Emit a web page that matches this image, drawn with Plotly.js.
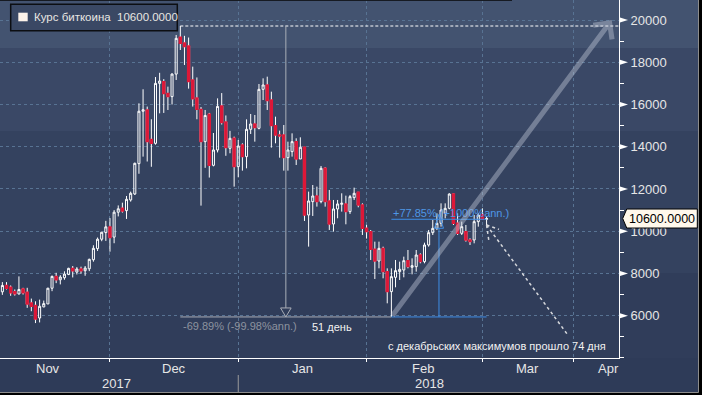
<!DOCTYPE html>
<html><head><meta charset="utf-8">
<script src="https://cdn.plot.ly/plotly-3.0.1.min.js"></script>
<style>html,body{margin:0;padding:0;background:#000;}#chart{width:702px;height:395px;}</style>
</head><body><div id="chart"></div>
<script>
// ---------- data ----------
const seriesName = 'Курс биткоина';
const lastPrice = 10600;
const startDate = '2017-11-05';
const opens = [
 7130,7430,7350,7130,7030,7270,7110,6600,6490,5890,6415,6555,7300,7860,7700,7795,7950,8240,8065,8210,8130,8220,8650,9175,9620,9935,
 10206,9720,10900,11085,10974,11480,11763,13200,15680,15740,14350,14160,17000,17081,16520,16371,17440,19180,18910,18770,17160,16310,15770,14240,15540,13120,13846,15930,15170,13925,14398,
 13056,14082,13530,14824,15076,14871,16717,16923,16212,14997,14555,14555,13482,13767,14240,13419,13972,10768,11400,11668,11400,12977,11431,10342,11052,11273,11289,10926,11589,11841,11242,
 10137,9978,9142,8589,9189,8085,7138,7816,8085,8163,8605,8290,8321,8873,8558,9347,9931,10136,10373,10846,11083,11761,10373,9899,9978,9584,9584,10452,
 10780,10560];
const highs = [
 7590,7590,7430,7240,7860,7320,7320,6810,6680,6760,6715,7320,7900,8030,7920,8100,8270,8350,8300,8320,8350,8700,9333,9700,9970,10490,
 10620,11000,11220,11350,11668,11873,13246,16055,16720,15900,15300,17300,17500,17200,16844,17475,19290,19716,19250,19170,17791,17280,15880,15740,15600,14650,16290,16540,15480,14750,14477,
 14319,14161,15297,15550,15502,16970,17238,17317,16607,15423,14761,15029,14240,14634,14398,14445,13972,11873,12188,12110,13088,13025,11952,11478,11478,11794,11683,11715,12062,11841,11321,
 10300,10057,9505,9505,9268,8242,8242,8637,8558,8795,9110,8716,9110,8952,9457,10057,10530,10846,11319,11319,11793,11761,10846,10452,10294,9663,10767,10846,
 11083,10700];
const lows = [
 6985,7240,6940,6950,7000,7000,6370,6210,5650,5680,6400,6555,7160,7540,7480,7700,7920,7810,7950,7985,7890,8110,8557,9065,9525,9540,
 9030,9430,10700,10880,10580,11400,11715,12720,13530,13300,13050,14100,15580,15600,15739,16000,17160,18580,17870,16750,15900,15300,11210,13000,12540,13070,13730,15050,13570,13690,12110,
 12551,12867,12977,14603,14240,14824,16212,15739,13956,14161,13482,12867,12867,13530,13135,13419,10484,9269,10721,11163,11321,11163,10058,9979,10611,10926,10326,10816,11478,11131,9821,
 9650,8637,7737,8242,7769,6585,5940,7343,7690,7816,8242,7958,8085,8479,8479,9268,9820,10057,10215,10609,11035,10294,9820,9820,9505,9347,9426,10215,
 10530,10290];
const closes = [
 7430,7300,7080,7030,7240,7080,6555,6445,5840,6445,6570,7300,7860,7700,7830,7970,8240,8130,8210,8130,8255,8667,9190,9620,9950,10206,
 9700,10900,11060,10958,11510,11795,13215,15680,15750,14240,14160,17000,17110,16520,16371,17440,19130,18895,18740,17081,16265,15770,14240,15480,13120,13846,15910,15150,13956,14398,13057,
 14035,13530,14824,15076,14903,16717,16923,16181,14997,14555,14508,13482,13845,14240,13419,13972,10768,11431,11668,11400,12977,11400,10342,11052,11289,11321,10926,11636,11794,11242,10137,
 9978,9142,8589,9189,8085,7138,7848,8132,8195,8605,8321,8368,8873,8558,9347,9931,10136,10373,11004,11083,11761,10373,9899,10215,9584,9505,10452,10767,
 10560,10600];
const yTickVals = [6000,8000,10000,12000,14000,16000,18000,20000];
const yTickText = ['6000','8000','10000','12000','14000','16000','18000','20000'];
const monthTickDates = ['2017-12-01','2018-01-01','2018-02-01','2018-03-01','2018-04-02'];
const monthLabels = ['Nov','Dec','Jan','Feb','Mar','Apr'];
const monthLabelDates = ['2017-11-16','2017-12-16 12:00','2018-01-16 12:00','2018-02-14 18:00','2018-03-16','2018-04-12 12:00'];
const yearLabels = ['2017','2018'];
const yearLabelDates = ['2017-12-02 16:00','2018-02-16 06:00'];
const weekendBreaks = ['2018-03-03','2018-03-04','2018-03-10','2018-03-11','2018-03-17','2018-03-18','2018-03-24','2018-03-25','2018-03-31','2018-04-01','2018-04-07','2018-04-08','2018-04-14','2018-04-15'];
const drawdownText = '-69.89% (-99.98%ann.)';
const daysText = '51 день';
const gainText = '+77.85% (+1000%ann.)';
const noteText = 'с декабрьских максимумов прошло 74 дня';

// ---------- helpers ----------
const DAY = 864e5;
const toMs = s => Date.parse(s + 'T00:00:00Z');
const fmt = ms => new Date(ms).toISOString().slice(0, 19).replace('T', ' ');
const dates = opens.map((_, i) => fmt(toMs(startDate) + i * DAY).slice(0, 10));

const FONT = 'Liberation Sans, Arial, sans-serif';
const GRID = '#587393';
const Y0 = 3996, Y1 = 20947;
const PX = (Y1 - Y0) / 358;           // value units per pixel

// key points
const peakIdx = highs.indexOf(Math.max(...highs));
const peak = highs[peakIdx];
let lowIdx = peakIdx;
for (let i = peakIdx; i < lows.length; i++) if (lows[i] < lows[lowIdx]) lowIdx = i;
const low = lows[lowIdx];
const lastIdx = closes.length - 1;
const up = low * 1.7785;
const tPeak = toMs(dates[peakIdx]), tLow = toMs(dates[lowIdx]), tLast = toMs(dates[lastIdx]);
const mid1 = (tPeak + tLow) / 2, mid2 = (tLow + tLast) / 2;

// ---------- traces ----------
const allCandles = {
  type: 'candlestick', x: dates, open: opens, high: highs, low: lows, close: closes,
  increasing: {line: {color: '#ffffff', width: 1}, fillcolor: 'rgba(0,0,0,0)'},
  decreasing: {line: {color: '#ffffff', width: 1}, fillcolor: 'rgba(0,0,0,0)'},
  whiskerwidth: 0, hoverinfo: 'skip', showlegend: false
};
const dn = dates.map((d, i) => i).filter(i => closes[i] < opens[i]);
const redBodies = {
  type: 'candlestick', x: dn.map(i => dates[i]), open: dn.map(i => opens[i]),
  high: dn.map(i => opens[i]), low: dn.map(i => closes[i]), close: dn.map(i => closes[i]),
  increasing: {line: {color: '#dd1838', width: 1.4}, fillcolor: '#dd1838'},
  decreasing: {line: {color: '#dd1838', width: 1.4}, fillcolor: '#dd1838'},
  whiskerwidth: 0, hoverinfo: 'skip', showlegend: false
};
const gw = 1.28 * DAY, gh = 9 * PX;
const greyTri = {
  type: 'scatter', mode: 'lines', hoverinfo: 'skip', showlegend: false,
  x: [fmt(mid1 - gw), fmt(mid1), fmt(mid1 + gw), fmt(mid1 - gw)],
  y: [low + gh, low, low + gh, low + gh],
  line: {color: '#a9aeb7', width: 1}
};
const bw = 1.09 * DAY;
const blueTri = {
  type: 'scatter', mode: 'lines', hoverinfo: 'skip', showlegend: false,
  x: [fmt(mid2 - bw), fmt(mid2), fmt(mid2 + bw), fmt(mid2 - bw)],
  y: [up - 9 * PX, up + 5 * PX, up - 9 * PX, up - 9 * PX],
  line: {color: '#3f8ee6', width: 1}
};

// ---------- shapes ----------
const shapes = [
  {type: 'rect', xref: 'paper', yref: 'paper', x0: 0, x1: 698 / 619, y0: -34 / 358, y1: 1, fillcolor: '#2e3b58', line: {width: 0}, layer: 'below'},
  {type: 'rect', xref: 'paper', yref: 'paper', x0: 0, x1: 698 / 619, y0: 1 - 48 / 358, y1: 1, fillcolor: '#435370', line: {width: 0}, layer: 'below'},
  {type: 'rect', xref: 'paper', yref: 'paper', x0: 0, x1: 698 / 619, y0: 1 - 131 / 358, y1: 1 - 48 / 358, fillcolor: '#3a4866', line: {width: 0}, layer: 'below'},
  {type: 'rect', xref: 'paper', yref: 'paper', x0: 0, x1: 698 / 619, y0: 1 - 273 / 358, y1: 1 - 131 / 358, fillcolor: '#34425f', line: {width: 0}, layer: 'below'},
  {type: 'rect', xref: 'paper', yref: 'paper', x0: 0, x1: 698 / 619, y0: 0, y1: 1 - 273 / 358, fillcolor: '#303d5a', line: {width: 0}, layer: 'below'},
  // frame
  {type: 'line', xref: 'paper', yref: 'paper', x0: 698.5 / 619, x1: 698.5 / 619, y0: 1, y1: -34.5 / 358, line: {color: '#8c8c8c', width: 1}},
  {type: 'line', xref: 'paper', yref: 'paper', x0: 0, x1: 698.5 / 619, y0: -34.5 / 358, y1: -34.5 / 358, line: {color: '#8c8c8c', width: 1}},
  {type: 'line', xref: 'paper', yref: 'paper', x0: 0, x1: 512 / 619, y0: 1 - 0.5 / 358, y1: 1 - 0.5 / 358, line: {color: '#161a22', width: 1}},
  // year separator
  {type: 'line', xref: 'x', yref: 'paper', x0: '2018-01-01', x1: '2018-01-01', y0: -17 / 358, y1: -34 / 358, line: {color: '#9a9a9a', width: 1}},
  // legend box + icon
  {type: 'rect', xref: 'paper', yref: 'paper', x0: 10.7 / 619, x1: 177.3 / 619, y0: 1 - 30.7 / 358, y1: 1 - 4.3 / 358, fillcolor: '#3a4864', line: {color: '#0c0e12', width: 1.5}},
  {type: 'rect', xref: 'paper', yref: 'paper', x0: 18.3 / 619, x1: 27.7 / 619, y0: 1 - 21.3 / 358, y1: 1 - 12.7 / 358, fillcolor: '#fdf3ea', line: {width: 0}},
  // peak dashed line
  {type: 'line', xref: 'x', yref: 'y', x0: dates[peakIdx], x1: '2018-04-17', y0: peak, y1: peak, line: {color: '#ffffff', width: 1, dash: '3px,2px'}},
  // drawdown measure
  {type: 'line', xref: 'x', yref: 'y', x0: fmt(mid1), x1: fmt(mid1), y0: peak, y1: low + gh, line: {color: '#a9aeb7', width: 1}},
  {type: 'line', xref: 'x', yref: 'y', x0: dates[peakIdx], x1: dates[lowIdx], y0: low, y1: low, line: {color: '#a9aeb7', width: 1}},
  // gain measure
  {type: 'line', xref: 'x', yref: 'y', x0: dates[lowIdx], x1: dates[lastIdx], y0: low, y1: low, line: {color: '#3f8ee6', width: 1}},
  {type: 'line', xref: 'x', yref: 'y', x0: dates[lowIdx], x1: dates[lastIdx], y0: up, y1: up, line: {color: '#3f8ee6', width: 1}},
  {type: 'line', xref: 'x', yref: 'y', x0: fmt(mid2), x1: fmt(mid2), y0: up - 9 * PX, y1: low, line: {color: '#3f8ee6', width: 1}},
  // dotted pointer from last candle
  {type: 'line', xref: 'x', yref: 'y', x0: dates[lastIdx], x1: '2018-03-29 15:30', y0: lows[lastIdx], y1: 5085, line: {color: '#d6d8dc', width: 1.5, dash: 'dot'}},
  {type: 'line', xref: 'x', yref: 'y', x0: dates[lastIdx], x1: '2018-03-07', y0: lows[lastIdx], y1: lows[lastIdx] - 4.3 * PX, line: {color: '#d6d8dc', width: 1.5, dash: 'dot'}},
  {type: 'line', xref: 'x', yref: 'y', x0: dates[lastIdx], x1: fmt(tLast + 0.6 * DAY), y0: lows[lastIdx], y1: lows[lastIdx] - 17 * PX, line: {color: '#d6d8dc', width: 1.5, dash: 'dot'}},
  // price label
  {type: 'path', xref: 'paper', yref: 'y',
   path: `M 1.006,${lastPrice} L 1.0125,${lastPrice + 9.5 * PX} L 1.1265,${lastPrice + 9.5 * PX} L 1.1265,${lastPrice - 9.5 * PX} L 1.0125,${lastPrice - 9.5 * PX} Z`,
   fillcolor: '#fff8ec', line: {color: '#000000', width: 1}}
];
// y tick triangles
yTickVals.forEach(v => shapes.push({
  type: 'path', xref: 'paper', yref: 'y',
  path: `M 1.0016,${v - 2.5 * PX} L 1.0145,${v} L 1.0016,${v + 2.5 * PX} Z`,
  fillcolor: '#ffffff', line: {width: 0}
}));

// ---------- annotations ----------
const annotations = [];
monthLabels.forEach((m, i) => annotations.push({
  xref: 'x', yref: 'paper', x: monthLabelDates[i], y: -10 / 358, text: m, showarrow: false,
  xanchor: 'center', yanchor: 'middle', font: {family: FONT, size: 13, color: '#e6e6e6'}
}));
yearLabels.forEach((m, i) => annotations.push({
  xref: 'x', yref: 'paper', x: yearLabelDates[i], y: -25 / 358, text: m, showarrow: false,
  xanchor: 'center', yanchor: 'middle', font: {family: FONT, size: 13, color: '#e6e6e6'}
}));
annotations.push(
  {xref: 'paper', yref: 'paper', x: 32 / 619, y: 1 - 17.5 / 358, xanchor: 'left', yanchor: 'middle', showarrow: false,
   text: seriesName + ' \u00a0' + lastPrice.toFixed(4), font: {family: FONT, size: 11.5, color: '#e8e6e2'}},
  {xref: 'paper', yref: 'y', x: 661.7 / 619, y: lastPrice, xanchor: 'center', yanchor: 'middle', showarrow: false,
   text: lastPrice.toFixed(4), font: {family: FONT, size: 12.5, color: '#000000'}},
  {xref: 'x', yref: 'y', x: dates[peakIdx], y: low, xanchor: 'left', yanchor: 'middle', xshift: 1, yshift: -8.6, showarrow: false,
   text: drawdownText, font: {family: FONT, size: 11, color: '#8d939f'}},
  {xref: 'x', yref: 'y', x: fmt(mid1), y: low, xanchor: 'left', yanchor: 'middle', xshift: 24, yshift: -10.3, showarrow: false,
   text: daysText, font: {family: FONT, size: 11, color: '#f2f2f2'}},
  {xref: 'x', yref: 'y', x: dates[lowIdx], y: up, xanchor: 'left', yanchor: 'middle', xshift: 0, yshift: 6, showarrow: false,
   text: gainText, font: {family: FONT, size: 11, color: '#4f97e6'}},
  {xref: 'x', yref: 'y', x: '2018-02-06', y: 4578, xanchor: 'left', yanchor: 'middle', xshift: -1, showarrow: false,
   text: noteText, font: {family: FONT, size: 11, color: '#f2f2f2'}},
  {xref: 'x', yref: 'y', x: '2018-04-13 06:00', y: 20000, axref: 'x', ayref: 'y', ax: dates[lowIdx], ay: low,
   text: '', showarrow: true, arrowhead: 4, arrowsize: 0.9, arrowwidth: 5, arrowcolor: '#c4cbda', opacity: 0.42,
   standoff: 0, startstandoff: 0}
);

const layout = {
  width: 702, height: 395,
  margin: {l: 0, r: 83, t: 0, b: 37, pad: 0},
  paper_bgcolor: '#000000', plot_bgcolor: 'rgba(0,0,0,0)',
  showlegend: false,
  font: {family: FONT, color: '#e6e6e6', size: 13},
  xaxis: {
    type: 'date', range: ['2017-11-04 10:15', '2018-04-17'],
    rangebreaks: [{values: weekendBreaks, dvalue: DAY}],
    rangeslider: {visible: false},
    tickmode: 'array', tickvals: monthTickDates, showticklabels: false,
    ticks: 'outside', ticklen: 3, tickcolor: '#ffffff', tickwidth: 1,
    showgrid: true, gridcolor: GRID, griddash: '3px,3px', gridwidth: 1,
    showline: true, linecolor: '#ffffff', linewidth: 1, zeroline: false, fixedrange: true
  },
  yaxis: {
    side: 'right', range: [Y0, Y1],
    tickmode: 'array', tickvals: yTickVals, ticktext: yTickText,
    ticks: 'outside', ticklen: 8, tickcolor: 'rgba(0,0,0,0)',
    minor: {dtick: 1000, ticks: 'outside', ticklen: 4, tickcolor: '#ffffff', tickwidth: 1, showgrid: false},
    tickfont: {family: FONT, size: 13, color: '#e6e6e6'},
    showgrid: true, gridcolor: GRID, griddash: '3px,3px', gridwidth: 1,
    showline: true, linecolor: '#ffffff', linewidth: 1, zeroline: false, fixedrange: true
  },
  shapes: shapes,
  annotations: annotations
};

Plotly.newPlot('chart', [allCandles, redBodies, greyTri, blueTri], layout, {displayModeBar: false, staticPlot: true});
</script>
</body></html>
